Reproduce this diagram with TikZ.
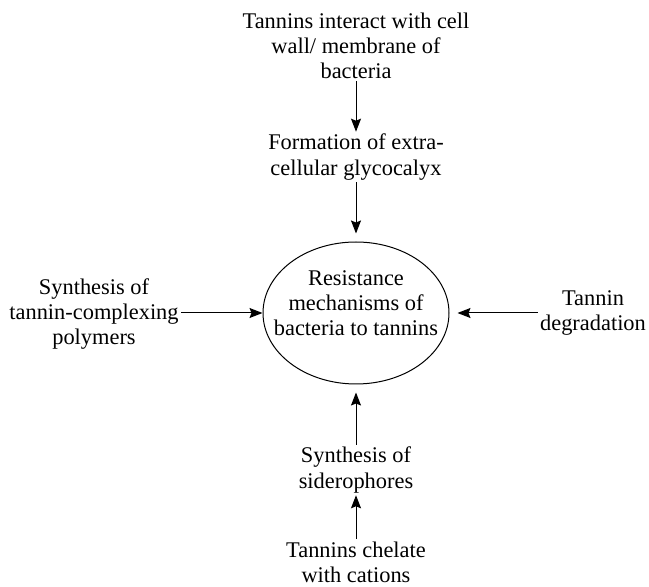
\documentclass[tikz,border=0pt]{standalone}
\usepackage{fontspec}
\setmainfont{Liberation Serif}
\usetikzlibrary{shapes.geometric,arrows.meta}
\begin{document}
\begin{tikzpicture}[x=0.5pt,y=-0.5pt,
    txt/.style={align=center, inner sep=1pt, font=\fontsize{11.2}{12.6}\selectfont},
    arr/.style={-{Stealth[length=6.5pt,width=5pt,inset=1pt]}, line width=0.5pt}]
    \useasboundingbox (0,0) rectangle (649,587);

    % Central ellipse
    \node[draw, ellipse, line width=0.5pt, minimum width=93pt, minimum height=71pt] (res) at (356,313) {};
    \node[txt] (restxt) at (356,303) {Resistance\\mechanisms of\\bacteria to tannins};

    % Top chain
    \node[txt] (wall) at (356,46) {Tannins interact with cell\\wall/ membrane of\\bacteria};
    \node[txt] (glyco) at (356,157) {Formation of extra-\\cellular glycocalyx};

    % Left and right
    \node[txt] (poly) at (94,314) {Synthesis of\\tannin-complexing\\polymers};
    \node[txt] (degr) at (593,313) {Tannin\\degradation};

    % Bottom chain
    \node[txt] (sidero) at (356,470) {Synthesis of\\siderophores};
    \node[txt] (chel) at (356,562) {Tannins chelate\\with cations};

    % Arrows
    \draw[arr] (wall) -- (glyco);
    \draw[arr, shorten >=4pt] (glyco) -- (res);
    \draw[arr] (poly.east |- res.west) -- (res.west);
    \draw[arr, shorten >=4pt] (degr.west |- res.east) -- (res.east);
    \draw[arr, shorten >=4pt] (sidero) -- (res);
    \draw[arr] (chel) -- (sidero);
\end{tikzpicture}
\end{document}
